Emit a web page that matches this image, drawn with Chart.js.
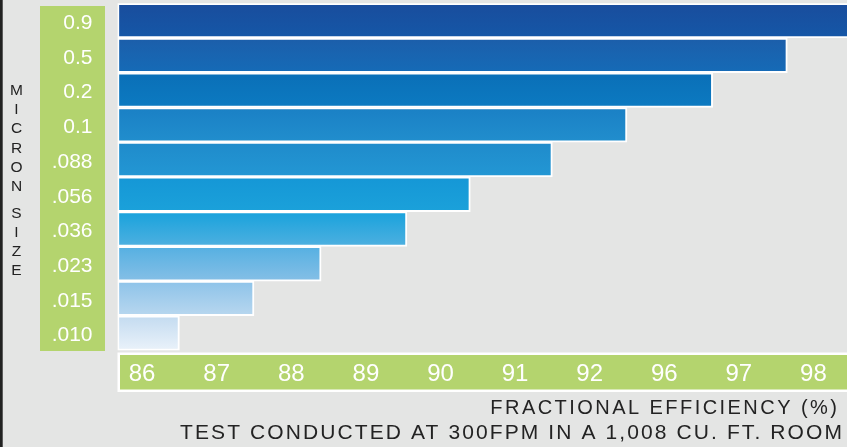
<!DOCTYPE html>
<html><head><meta charset="utf-8">
<script src="https://cdn.jsdelivr.net/npm/chart.js@4.4.0/dist/chart.umd.min.js"></script>
<style>
html,body{margin:0;padding:0;background:#e4e5e4;overflow:hidden}
#wrap{width:847px;height:447px;position:relative}
</style>
</head><body>
<div id="wrap"><canvas id="c"></canvas></div>
<script>
// micron sizes (top to bottom) and their fractional efficiency in %
const sizes = ["0.9","0.5","0.2","0.1",".088",".056",".036",".023",".015",".010"];
const efficiency = [99.0, 97.65, 96.65, 94.0, 91.5, 90.4, 89.55, 88.4, 87.5, 86.5];
// the x axis is not linear: ticks are evenly spaced but jump from 92 to 96
const tickLabels = [86,87,88,89,90,91,92,96,97,98];

const gradTop = ["#194d9d","#1c5eaa","#0a6fb7","#1a80c5","#1f8bcb","#1597d6","#18a2dc","#55b0e2","#8dc3e9","#c3dbf0"];
const gradBot = ["#1557a7","#156bb7","#0c7ac1","#218ecd","#2397d4","#1ba1da","#4eb0e0","#85bfe6","#b8d7ef","#eaf2fa"];
const GREEN = "#b4d46e", FONT = "'Liberation Sans', Arial, Helvetica, sans-serif";
const xMin = -0.33, xMax = 9.45;

// efficiency % -> position along the evenly spaced tick index
function toIdx(v){
  for(let i=0;i<tickLabels.length-1;i++){
    if(v<=tickLabels[i+1]) return i+(v-tickLabels[i])/(tickLabels[i+1]-tickLabels[i]);
  }
  const n=tickLabels.length-1;
  return n+(v-tickLabels[n]);
}

function barFill(c){
  const ch=c.chart, y=ch.scales.y;
  if(!ch.chartArea||!y||c.dataIndex==null) return gradTop[c.dataIndex||0];
  const mid=y.getPixelForValue(c.dataIndex), h=(ch.chartArea.bottom-ch.chartArea.top)/sizes.length;
  const g=ch.ctx.createLinearGradient(0,mid-h/2,0,mid+h/2);
  g.addColorStop(0,gradTop[c.dataIndex]); g.addColorStop(1,gradBot[c.dataIndex]);
  return g;
}

const frame = {
  id:"frame",
  beforeDraw(ch){
    const ctx=ch.ctx, a=ch.chartArea, xs=ch.scales.x;
    ctx.save();
    ctx.fillStyle="#e4e5e4"; ctx.fillRect(0,0,ch.width,ch.height);
    ctx.fillStyle="#222"; ctx.fillRect(0,0,2.7,ch.height);
    // green box behind the size labels
    ctx.fillStyle=GREEN; ctx.fillRect(40,6,65,a.bottom-5.5);
    // green strip behind the x labels, white rim
    ctx.fillStyle="#fff"; ctx.fillRect(xs.left,xs.top+2,xs.right-xs.left,39.5);
    ctx.fillStyle=GREEN; ctx.fillRect(xs.left+2.5,xs.top+4.5,xs.right-xs.left-2.5,34.5);
    ctx.restore();
  },
  afterDraw(ch){
    const ctx=ch.ctx;
    ctx.save();
    ctx.fillStyle="#232323"; ctx.textAlign="center"; ctx.textBaseline="alphabetic";
    ctx.font="15.5px "+FONT;
    let y=95;
    for(const chr of "MICRON SIZE"){
      if(chr===" "){ y+=7.5; continue; }
      ctx.fillText(chr,16.5,y); y+=19.2;
    }
    ctx.textAlign="right";
    ctx.font="20px "+FONT; ctx.letterSpacing="2.45px";
    ctx.fillText("FRACTIONAL EFFICIENCY (%)",839.4,414);
    ctx.font="21px "+FONT; ctx.letterSpacing="2.1px";
    ctx.fillText("TEST CONDUCTED AT 300FPM IN A 1,008 CU. FT. ROOM",844,439);
    ctx.restore();
  }
};

new Chart(document.getElementById("c"),{
  type:"bar",
  data:{labels:sizes,datasets:[{
    data:efficiency.map(toIdx),
    base:xMin,
    backgroundColor:barFill,
    borderColor:"#ffffff",borderWidth:2,borderSkipped:false,
    barPercentage:1,categoryPercentage:1
  }]},
  options:{
    indexAxis:"y",responsive:true,maintainAspectRatio:false,animation:false,
    layout:{padding:{left:0,right:0,top:3.3,bottom:55}},
    plugins:{legend:{display:false},tooltip:{enabled:false}},
    scales:{
      y:{
        grid:{display:false,drawTicks:false},border:{display:false},
        ticks:{color:"#fff",font:{family:FONT,size:21},padding:25,autoSkip:false,labelOffset:2.5},
        afterFit(s){ s.width=117.5; s.paddingTop=0; s.paddingBottom=0; }
      },
      x:{
        type:"linear",min:xMin,max:xMax,
        grid:{display:false,drawTicks:false},border:{display:false},
        ticks:{color:"#fff",font:{family:FONT,size:24},padding:9,maxRotation:0,
          callback:v=>tickLabels[v]!==undefined?String(tickLabels[v]):""},
        afterBuildTicks(s){ s.ticks=tickLabels.map((_,i)=>({value:i})); },
        afterFit(s){ s.height=41.5; s.paddingLeft=0; s.paddingRight=0; }
      }
    }
  },
  plugins:[frame]
});
</script>
</body></html>
